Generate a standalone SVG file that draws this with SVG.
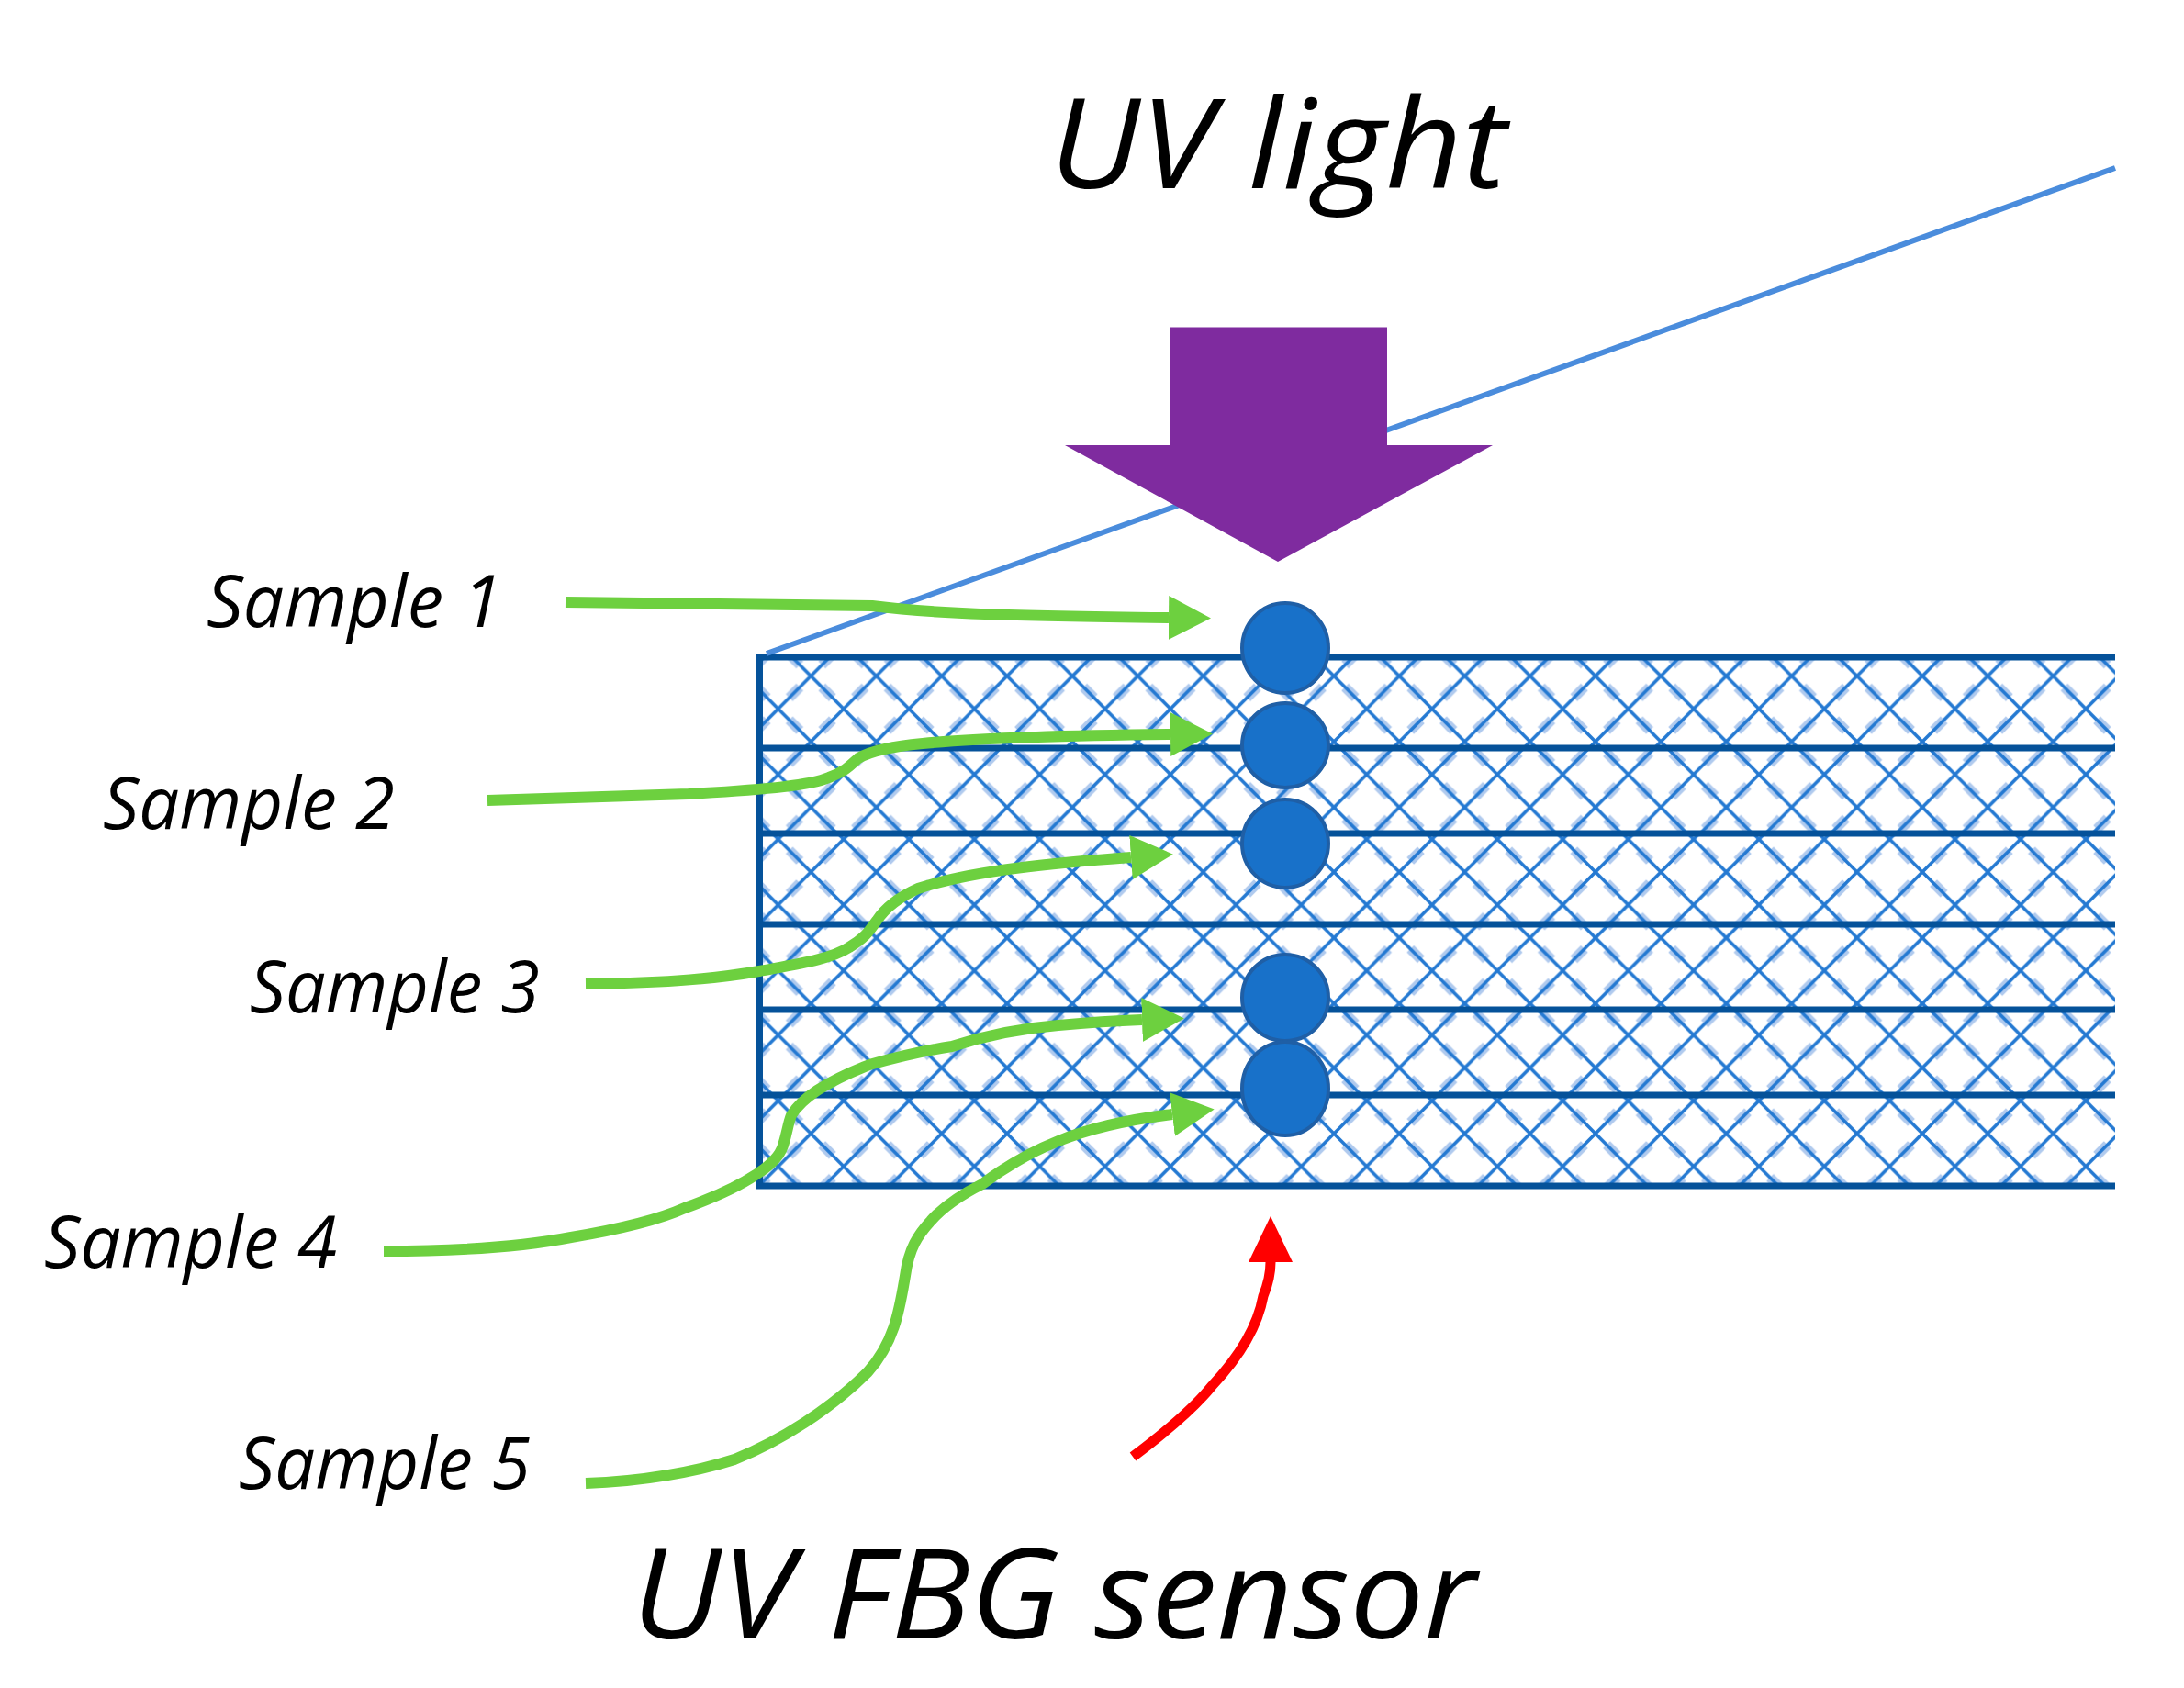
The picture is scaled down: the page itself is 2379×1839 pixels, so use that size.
<svg xmlns="http://www.w3.org/2000/svg" width="2379" height="1839" viewBox="0 0 2379 1839">
<style>
text{font-family:"Open Sans","Noto Sans","Liberation Sans",sans-serif;font-style:italic;fill:#000}
.sample{font-size:78px}
.title{font-size:135px}
.rule{stroke:#05529A;stroke-width:7;fill:none}
.green{fill:none;stroke:#6DD03F;stroke-width:12;marker-end:url(#gh)}
.red{fill:none;stroke:#FF0000;stroke-width:11;marker-end:url(#rh)}
.dot{fill:#1871C9;stroke:#1F5FA6;stroke-width:4}
</style>
<defs>
<pattern id="h1" patternUnits="userSpaceOnUse" width="71.22" height="71.5" patternTransform="translate(883.3 736.5)">
<path d="M12 12L23.6 23.7M47.6 47.8L59.2 59.5M59.2 12L47.6 23.7M23.6 47.8L12 59.5" stroke="#B0CAEE" stroke-width="11" fill="none"/>
<path d="M0 0L71.22 71.5M71.22 0L0 71.5" stroke="#2479D2" stroke-width="3.6" fill="none"/>
</pattern>
<pattern id="h2" href="#h1" patternTransform="translate(883.3 879.5)"/>
<pattern id="h3" href="#h1" patternTransform="translate(883.3 950)"/>
<pattern id="h4" href="#h1" patternTransform="translate(883.3 1021.7)"/>
<pattern id="h5" href="#h1" patternTransform="translate(883.3 1163.3)"/>
<pattern id="h6" href="#h1" patternTransform="translate(883.3 1235)"/>
<marker id="gh" markerUnits="userSpaceOnUse" markerWidth="46" markerHeight="48" refX="0" refY="24" orient="auto" viewBox="0 0 46 48"><path d="M0 0L46 24L0 48z" fill="#6DD03F"/></marker>
<marker id="rh" markerUnits="userSpaceOnUse" markerWidth="50" markerHeight="48" refX="0" refY="24" orient="auto" viewBox="0 0 50 48"><path d="M0 0L50 24L0 48z" fill="#FF0000"/></marker>
</defs>
<rect width="2379" height="1839" fill="#fff"/>
<g id="layers">
<rect x="828" y="716" width="1476" height="99" fill="url(#h1)"/>
<rect x="828" y="815" width="1476" height="93" fill="url(#h2)"/>
<rect x="828" y="908" width="1476" height="99" fill="url(#h3)"/>
<rect x="828" y="1007" width="1476" height="93" fill="url(#h4)"/>
<rect x="828" y="1100" width="1476" height="93" fill="url(#h5)"/>
<rect x="828" y="1193" width="1476" height="99" fill="url(#h6)"/>
<path class="rule" d="M2304 716H827.5V1292H2304M827.5 815H2304M827.5 908H2304M827.5 1007H2304M827.5 1100H2304M827.5 1193H2304"/>
</g>
<g id="plane-edge"><path d="M835 712L2304 183" fill="none" stroke="#4A8CDC" stroke-width="6"/></g>
<g id="uv-arrow"><path d="M1275 356.5H1511V485H1626L1392 612L1160 485H1275z" fill="#7F2B9F"/></g>
<g id="sensors">
<g id="sensor-1"><ellipse class="dot" cx="1400" cy="706" rx="47" ry="49"/></g>
<g id="sensor-2"><ellipse class="dot" cx="1400" cy="812" rx="47" ry="46"/></g>
<g id="sensor-3"><ellipse class="dot" cx="1400" cy="919" rx="47" ry="48"/></g>
<g id="sensor-4"><ellipse class="dot" cx="1400" cy="1087" rx="47" ry="47"/></g>
<g id="sensor-5"><ellipse class="dot" cx="1400" cy="1186" rx="47" ry="51"/></g>
</g>
<g id="connectors">
<path class="green" d="M616 656L950 660C1020 669 1100 671 1273 673"/>
<path class="green" d="M531 872L750 865C840 860 885 855 903 847C922 840 928 832 935 826C950 817 975 813 1005 810C1080 803 1180 801 1275 800"/>
<path class="green" d="M638 1072C710 1071 770 1068 827 1058C870 1050 905 1045 925 1032C945 1020 948 1012 955 1003C965 988 980 977 1000 968C1060 948 1150 940 1232 934"/>
<path class="green" d="M418 1363C500 1363 570 1358 622 1348C670 1340 715 1330 746 1316C785 1302 805 1292 823 1280C842 1268 850 1258 853 1248C858 1232 858 1225 862 1215C868 1205 875 1198 890 1188C915 1172 935 1165 947 1160C990 1148 1010 1144 1037 1140C1080 1126 1115 1120 1153 1117C1185 1114 1215 1112 1244 1111"/>
<path class="green" d="M638 1616C700 1614 760 1603 800 1590C850 1570 905 1535 945 1495C975 1462 980 1425 986 1390C990 1360 1000 1345 1014 1330C1030 1312 1050 1300 1070 1290C1090 1275 1115 1258 1153 1243C1190 1228 1235 1219 1277 1214"/>
<path class="red" d="M1234 1587C1270 1560 1300 1535 1320 1510C1350 1478 1370 1445 1376 1412C1383 1395 1384 1385 1384 1375"/>
</g>
<g id="labels">
<text class="title" x="1143" y="205" textLength="498" lengthAdjust="spacingAndGlyphs">UV light</text>
<text class="title" x="688" y="1785" textLength="920" lengthAdjust="spacingAndGlyphs">UV FBG sensor</text>
<text class="sample" x="225" y="683" textLength="322" lengthAdjust="spacingAndGlyphs">Sample 1</text>
<text class="sample" x="112" y="903" textLength="318" lengthAdjust="spacingAndGlyphs">Sample 2</text>
<text class="sample" x="272" y="1103" textLength="316" lengthAdjust="spacingAndGlyphs">Sample 3</text>
<text class="sample" x="48" y="1381" textLength="319" lengthAdjust="spacingAndGlyphs">Sample 4</text>
<text class="sample" x="260" y="1622" textLength="318" lengthAdjust="spacingAndGlyphs">Sample 5</text>
</g>
</svg>
